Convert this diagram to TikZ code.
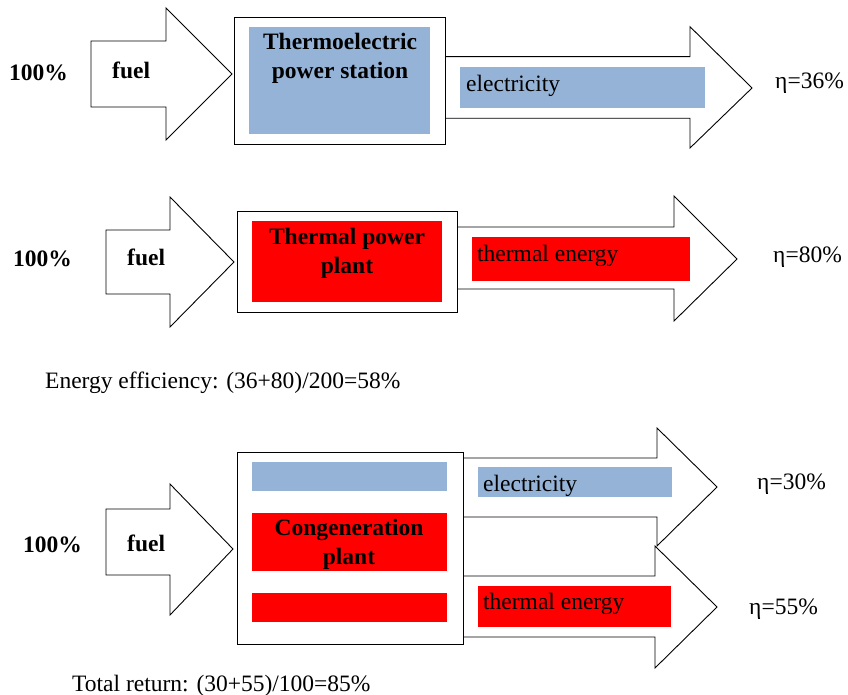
\documentclass[tikz,border=0pt]{standalone}
\usepackage{fontspec}
\setmainfont{Liberation Serif}
\definecolor{eblue}{HTML}{95B3D7}
\definecolor{ered}{HTML}{FF0000}
\begin{document}
\begin{tikzpicture}[x=1pt,y=-1pt,
  outl/.style={draw=black,line width=0.9pt,fill=white,line join=miter},
  txt/.style={inner sep=0pt,font=\fontsize{23.5}{29}\selectfont,yshift=-2.5pt},
  btxt/.style={inner sep=0pt,font=\fontsize{23.5}{29}\selectfont\bfseries,align=center,yshift=-2pt}]
\useasboundingbox (0,0) rectangle (848,695);
% ---------- top row ----------
\draw[outl] (91,41) -- (166,41) -- (166,8) -- (232,74) -- (166,140) -- (166,107) -- (91,107) -- cycle;
\draw[outl] (445,56.7) -- (690,56.7) -- (690,26.7) -- (752,88) -- (690,148) -- (690,118.3) -- (445,118.3);
\draw[outl] (234,17) rectangle (445,144);
\fill[eblue] (249,27) rectangle (430,134);
\fill[eblue] (460,67) rectangle (705,108);
\node[btxt] (t1) at (340,56.5) {Thermoelectric\\power station};
\node[btxt,anchor=west] (f1) at (112,68) {fuel};
\node[btxt] (p1) at (38.5,71) {100\%};
\node[txt,anchor=west] (e1) at (466,83) {electricity};
\node[txt,anchor=west] (n1) at (775,81) {η=36\%};
% ---------- middle row ----------
\draw[outl] (106,230) -- (170,230) -- (170,197) -- (234,262) -- (170,327) -- (170,294) -- (106,294) -- cycle;
\draw[outl] (457,227) -- (674,227) -- (674,196) -- (737,259) -- (674,321) -- (674,289) -- (457,289);
\draw[outl] (237,211) rectangle (457,312);
\fill[ered] (252,221) rectangle (442,302);
\fill[ered] (472,237) rectangle (690,281);
\node[btxt] (t2) at (347,251) {Thermal power\\plant};
\node[btxt,anchor=west] (f2) at (127,255) {fuel};
\node[btxt] (p2) at (42.5,257) {100\%};
\node[txt,anchor=west] (e2) at (477,253) {thermal energy};
\node[txt,anchor=west] (n2) at (773,255) {η=80\%};
\node[txt,anchor=west] (eff) at (45,380) {Energy efficiency: (36+80)/200=58\%};
% ---------- bottom row ----------
\draw[outl] (106,509) -- (170,509) -- (170,484) -- (233,549) -- (170,615) -- (170,575) -- (106,575) -- cycle;
\draw[outl] (463,458) -- (657,458) -- (657,428) -- (717,487) -- (657,546) -- (657,517) -- (463,517);
\draw[outl] (463,576) -- (655,576) -- (655,546) -- (717,607) -- (655,668) -- (655,637) -- (463,637);
\draw[outl] (237,452) rectangle (463,644);
\fill[eblue] (252,462) rectangle (447,491);
\fill[ered] (252,513) rectangle (447,571);
\fill[ered] (252,593) rectangle (447,622);
\fill[eblue] (478,467) rectangle (672,497);
\fill[ered] (478,586) rectangle (671,627);
\node[btxt] (t3) at (349,542.5) {Congeneration\\plant};
\node[btxt,anchor=west] (f3) at (127,541) {fuel};
\node[btxt] (p3) at (52.5,543) {100\%};
\node[txt,anchor=west] (e3) at (483,483) {electricity};
\node[txt,anchor=west] (e4) at (483,601) {thermal energy};
\node[txt,anchor=west] (n3) at (757,482) {η=30\%};
\node[txt,anchor=west] (n4) at (749,607) {η=55\%};
\node[txt,anchor=west] (tot) at (72,683) {Total return: (30+55)/100=85\%};
\end{tikzpicture}
\end{document}
